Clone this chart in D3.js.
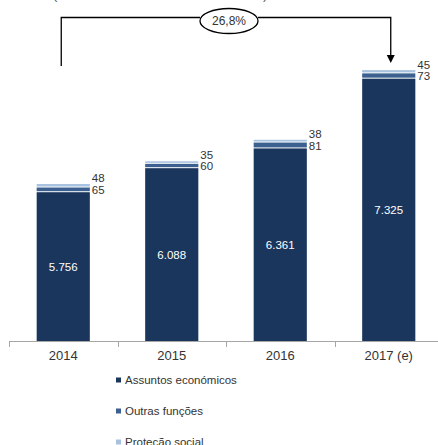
<!DOCTYPE html>
<html>
<head>
<meta charset="utf-8">
<script src="https://cdn.jsdelivr.net/npm/d3@7"></script>
<style>
    body { margin: 0; background: #fff; }
    svg { display: block; font-family: "Liberation Sans", Arial, sans-serif; }
</style>
</head>
<body>
<div id="chart"></div>
<script>
const years = ["2014", "2015", "2016", "2017 (e)"];
const assuntosEconomicos = [5756, 6088, 6361, 7325];
const outrasFuncoes = [65, 60, 81, 73];
const protecaoSocial = [48, 35, 38, 45];
const seriesNames = ["Assuntos económicos", "Outras funções", "Proteção social"];
const colors = ["#1b365d", "#3c6190", "#a7c1df"];

function drawChart() {
    let width = 438,
        height = 445;

    let svg = d3.select("#chart").append("svg")
        .attr("width", width)
        .attr("height", height);

    let data = years.map((year, i) => ({
        year: year,
        dark: assuntosEconomicos[i],
        mid: outrasFuncoes[i],
        light: protecaoSocial[i]
    }));

    var x = d3.scaleBand()
        .domain(years)
        .range([9, 443])
        .padding(0);

    // value axis does not start at zero in the original
    var y = d3.scaleLinear()
        .domain([3700, 7500])
        .range([341, 66]);

    let barWidth = x.bandwidth() * 0.49;
    let barX = d => x(d.year) + (x.bandwidth() - barWidth) / 2;
    let center = d => x(d.year) + x.bandwidth() / 2;
    let base = y.domain()[0];

    let bars = svg.append("g").selectAll("g")
        .data(data)
        .enter().append("g");

    bars.append("rect")
        .attr("x", barX)
        .attr("width", barWidth)
        .attr("y", d => y(d.dark))
        .attr("height", d => y(base) - y(d.dark))
        .attr("fill", colors[0]);

    bars.append("rect")
        .attr("x", barX)
        .attr("width", barWidth)
        .attr("y", d => y(d.dark + d.mid))
        .attr("height", d => y(d.dark) - y(d.dark + d.mid) - 1)
        .attr("fill", colors[1]);

    bars.append("rect")
        .attr("x", barX)
        .attr("width", barWidth)
        .attr("y", d => y(d.dark + d.mid + d.light))
        .attr("height", d => y(d.dark + d.mid) - y(d.dark + d.mid + d.light) - 1)
        .attr("fill", colors[2]);

    // values inside the dark part
    bars.append("text")
        .attr("x", center)
        .attr("y", d => (y(d.dark) + y(base)) / 2)
        .attr("dy", "0.35em")
        .attr("text-anchor", "middle")
        .attr("fill", "#fff")
        .style("font-size", "11.5px")
        .text(d => d3.format(",")(d.dark).replace(/,/g, "."));

    // small values to the right of the bars
    bars.append("text")
        .attr("x", d => barX(d) + barWidth + 2)
        .attr("y", d => y(d.dark + d.mid / 2))
        .attr("dy", "0.35em")
        .attr("fill", "#333")
        .style("font-size", "11.5px")
        .text(d => d.mid);

    bars.append("text")
        .attr("x", d => barX(d) + barWidth + 2)
        .attr("y", d => y(d.dark + d.mid / 2) - 11.5)
        .attr("dy", "0.35em")
        .attr("fill", "#333")
        .style("font-size", "11.5px")
        .text(d => d.light);

    // category axis
    let axis = svg.append("g");
    axis.append("line")
        .attr("x1", 9).attr("x2", width)
        .attr("y1", 341.5).attr("y2", 341.5)
        .attr("stroke", "#a6a6a6");
    axis.selectAll(".tick")
        .data(years)
        .enter().append("line")
        .attr("x1", d => Math.round(x(d)) + 0.5)
        .attr("x2", d => Math.round(x(d)) + 0.5)
        .attr("y1", 341)
        .attr("y2", 347)
        .attr("stroke", "#a6a6a6");
    axis.selectAll(".label")
        .data(data)
        .enter().append("text")
        .attr("x", center)
        .attr("y", 355.5)
        .attr("dy", "0.35em")
        .attr("text-anchor", "middle")
        .attr("fill", "#333")
        .style("font-size", "13px")
        .text(d => d.year);

    // legend
    let legend = svg.append("g").selectAll("g")
        .data(seriesNames)
        .enter().append("g")
        .attr("transform", (d, i) => "translate(116," + (380 + i * 31) + ")");
    legend.append("rect")
        .attr("x", 0).attr("y", -2.5)
        .attr("width", 5).attr("height", 5)
        .attr("fill", (d, i) => colors[i]);
    legend.append("text")
        .attr("x", 9)
        .attr("dy", "0.35em")
        .attr("fill", "#333")
        .style("font-size", "11.5px")
        .text(d => d);

    // growth bracket 2014 -> 2017
    let first = data[0], last = data[data.length - 1];
    let growth = (last.dark + last.mid + last.light) / (first.dark + first.mid + first.light) - 1;
    let lx = center(first) - 2, rx = center(last) + 2;
    let cx = 229, cy = 21;

    let bracket = svg.append("g")
        .attr("fill", "none")
        .attr("stroke", "#000")
        .attr("stroke-width", 1.3);
    bracket.append("path")
        .attr("d", "M" + lx + ",66V17.5H" + (cx - 29));
    bracket.append("path")
        .attr("d", "M" + (cx + 29) + ",17.5H" + rx + "V57");
    bracket.append("ellipse")
        .attr("cx", cx).attr("cy", cy)
        .attr("rx", 29).attr("ry", 12.5)
        .attr("fill", "#fff");
    svg.append("path")
        .attr("d", "M" + (rx - 4) + ",55L" + (rx + 4) + ",55L" + rx + ",63Z")
        .attr("fill", "#000");
    svg.append("text")
        .attr("x", cx)
        .attr("y", cy)
        .attr("dy", "0.35em")
        .attr("text-anchor", "middle")
        .attr("fill", "#333")
        .style("font-size", "12px")
        .text((growth * 100).toFixed(1).replace(".", ",") + "%");

    // cut-off title fragments
    svg.append("text").attr("x", 53).attr("y", -1).style("font-size", "13px").attr("fill", "#555").text("(");
    svg.append("text").attr("x", 263).attr("y", -1).style("font-size", "13px").attr("fill", "#555").text(")");
}

drawChart();
</script>
</body>
</html>
